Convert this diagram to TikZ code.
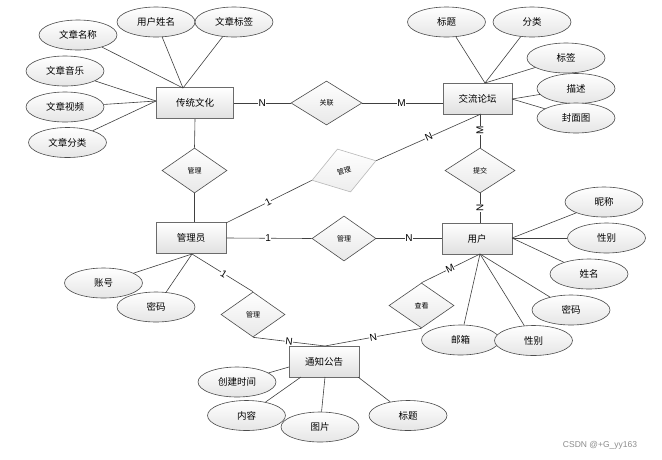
\documentclass[tikz,border=0pt]{standalone}
\usepackage{fontspec}
\setmainfont{Liberation Sans}
\newfontfamily\cjk{Noto Sans CJK SC}
\usetikzlibrary{shapes.geometric}
\begin{document}
\begin{tikzpicture}[x=1pt,y=-1pt,
  ent/.style={draw=black!58, line width=1pt, rectangle, minimum width=70pt, minimum height=31pt, inner sep=0pt, top color=white, bottom color=black!12, font=\cjk\fontsize{9.5}{10}\selectfont},
  attr/.style={draw=black!70, line width=0.6pt, ellipse, minimum width=78pt, minimum height=30pt, inner sep=0pt, top color=white, bottom color=black!10, font=\cjk\fontsize{9.5}{10}\selectfont},
  rel/.style={draw=black!70, line width=0.6pt, diamond, minimum width=65pt, minimum height=45pt, inner sep=0pt, top color=white, bottom color=black!9, font=\cjk\fontsize{7}{8}\selectfont},
  conn/.style={draw=black!75, line width=0.6pt},
  card/.style={fill=white, inner sep=0.4pt, font=\fontsize{10}{10}\selectfont},
]
\useasboundingbox (0,0) rectangle (662,459);
\fill[white] (0,0) rectangle (662,459);

% entities
\node[ent, minimum width=77pt] (ctwh) at (195,103) {传统文化};
\node[ent, minimum width=69pt] (jlt) at (477.5,98.5) {交流论坛};
\node[ent] (gly) at (191,238) {管理员};
\node[ent] (yh) at (477,238.5) {用户};
\node[ent] (tzgg) at (324,361.5) {通知公告};

% attributes of 传统文化
\node[attr] (a-mc) at (78,35) {文章名称};
\node[attr] (a-xm) at (156,22) {用户姓名};
\node[attr] (a-bq) at (234,22) {文章标签};
\node[attr] (a-yy) at (65,71) {文章音乐};
\node[attr] (a-sp) at (65,107) {文章视频};
\node[attr] (a-fl) at (67.5,142.5) {文章分类};

% attributes of 交流论坛
\node[attr] (b-bt) at (446.5,22) {标题};
\node[attr] (b-fl) at (532,22) {分类};
\node[attr] (b-bq) at (566,58) {标签};
\node[attr] (b-ms) at (576,88.5) {描述};
\node[attr] (b-fm) at (576,118) {封面图};

% attributes of 用户
\node[attr] (u-nc) at (604,202) {昵称};
\node[attr] (u-xb) at (606.5,238) {性别};
\node[attr] (u-xm) at (589,274) {姓名};
\node[attr] (u-mm) at (571,310) {密码};
\node[attr] (u-yx) at (460.5,340) {邮箱};
\node[attr] (u-xb2) at (533.5,340.5) {性别};

% attributes of 管理员
\node[attr] (g-zh) at (103.5,283) {账号};
\node[attr] (g-mm) at (156,307) {密码};

% attributes of 通知公告
\node[attr] (t-sj) at (237,382) {创建时间};
\node[attr] (t-nr) at (246.5,415.5) {内容};
\node[attr] (t-tp) at (320,427) {图片};
\node[attr] (t-bt) at (408,415.5) {标题};

% relationships
\node[rel, minimum width=71pt, minimum height=44pt] (r-gl) at (326.5,103) {关联};
\node[rel] (r-gl1) at (194.5,170.5) {管理};
\node[rel, rotate=17, draw=black!28, minimum width=67pt, bottom color=black!7] (r-gl2) at (344,170.5) {管理};
\node[rel, minimum width=70pt] (r-tj) at (480,170.5) {提交};
\node[rel, minimum width=64pt] (r-gl3) at (344,238.5) {管理};
\node[rel, minimum width=64pt] (r-gl4) at (253,314.5) {管理};
\node[rel] (r-ck) at (421.5,305.5) {查看};

% convergence points
\coordinate (c1) at (183,88);
\coordinate (c2) at (156,101);
\coordinate (c3) at (485,83);
\coordinate (c4) at (512,99);
\coordinate (c5) at (512,238);
\coordinate (c6) at (480,254);
\coordinate (c7) at (192,254);
\coordinate (c8) at (325,346);
\coordinate (t1) at (289,367);
\coordinate (t2) at (301,377);
\coordinate (t3) at (325,377);
\coordinate (t4) at (358,377);
\coordinate (glyne) at (226,223);
\coordinate (jls) at (481,114);

% attribute connectors
\foreach \a in {a-mc,a-xm,a-bq} \draw[conn] (\a) -- (c1);
\foreach \a in {a-yy,a-sp,a-fl} \draw[conn] (\a) -- (c2);
\foreach \a in {b-bt,b-fl,b-bq} \draw[conn] (\a) -- (c3);
\foreach \a in {b-ms,b-fm} \draw[conn] (\a) -- (c4);
\foreach \a in {u-nc,u-xb,u-xm} \draw[conn] (\a) -- (c5);
\foreach \a in {u-mm,u-yx,u-xb2} \draw[conn] (\a) -- (c6);
\foreach \a in {g-zh,g-mm} \draw[conn] (\a) -- (c7);
\draw[conn] (t-sj) -- (t1);
\draw[conn] (t-nr) -- (t2);
\draw[conn] (t-tp) -- (t3);
\draw[conn] (t-bt) -- (t4);

% relationship connectors
\draw[conn] (ctwh.east) -- node[card, pos=0.5] {N} (r-gl.west);
\draw[conn] (r-gl.east) -- node[card, pos=0.49] {M} (r-gl.east -| jlt.west);
\draw[conn] (ctwh.south) -- (r-gl1.north);
\draw[conn] (r-gl1.south) -- (r-gl1.south |- gly.north);
\draw[conn] (r-tj.north |- jlt.south) -- node[card, pos=0.47, rotate=90] {M} (r-tj.north);
\draw[conn] (r-tj.south) -- node[card, pos=0.5, rotate=90] {N} (r-tj.south |- yh.north);
\draw[conn] (glyne) -- node[card, pos=0.49, sloped] {1} (r-gl2.west);
\draw[conn] (r-gl2.east) -- node[card, pos=0.5, sloped] {N} (jls);
\draw[conn] (gly.east) -- node[card, pos=0.49] {1} (r-gl3.west);
\draw[conn] (r-gl3.east) -- node[card, pos=0.5] {N} (yh.west);
\draw[conn] (c6) -- node[card, pos=0.51, sloped] {M} (r-ck.north);
\draw[conn] (r-ck.south) -- node[card, pos=0.5, sloped] {N} (c8);
\draw[conn] (c7) -- node[card, pos=0.52, sloped] {1} (r-gl4.north);
\draw[conn] (r-gl4.south) -- node[card, pos=0.5, sloped] {N} (c8);

\node[font=\fontsize{8.5}{9}\selectfont, text=black!45] (wm) at (600,445) {CSDN @+G\_yy163};
\end{tikzpicture}
\end{document}
